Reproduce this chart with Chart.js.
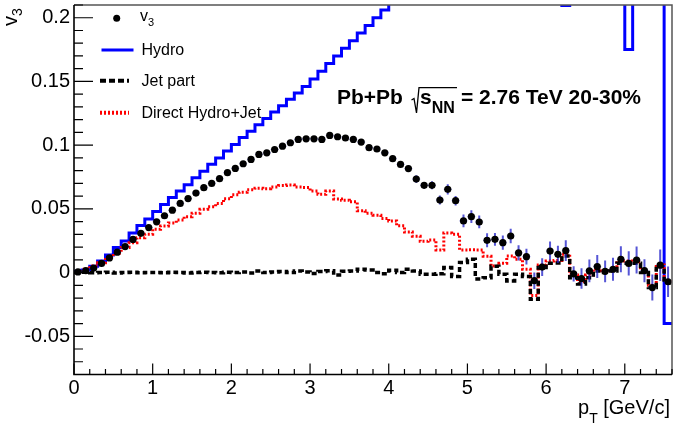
<!DOCTYPE html>
<html>
<head>
<meta charset="utf-8">
<script src="https://cdn.jsdelivr.net/npm/chart.js@4.4.1/dist/chart.umd.min.js"></script>
<style>
  html, body { margin: 0; padding: 0; background: #fff; }
  #wrap { position: relative; width: 676px; height: 428px; overflow: hidden; }
  #chart { position: absolute; left: 0; top: 0; }
  #deco { position: absolute; left: 0; top: 0; }
  .txt { position: absolute; white-space: nowrap; color: #000;
         font-family: "Liberation Sans", Arial, sans-serif; }
  .txt sub { vertical-align: baseline; position: relative; }
  .f20 { font-size: 20px; line-height: 20px; }
  .f16 { font-size: 16px; line-height: 16px; }
  .note { font-size: 21px; line-height: 21px; font-weight: bold; }
</style>
</head>
<body>
<div id="wrap">
  <canvas id="chart" width="676" height="428"></canvas>
  <svg id="deco" width="676" height="428">
    <!-- легенда -->
    <circle cx="116.7" cy="18.3" r="3.5" fill="#000"/>
    <line x1="101.5" y1="50" x2="133.5" y2="50" stroke="#0000ff" stroke-width="3"/>
    <line x1="100" y1="80.7" x2="129" y2="80.7" stroke="#000" stroke-width="4" stroke-dasharray="6 3"/>
    <line x1="100" y1="112.7" x2="129" y2="112.7" stroke="#ff0000" stroke-width="4" stroke-dasharray="2 2"/>
    <!-- корень над s_NN -->
    <polyline points="411.5,100 414,98.5 416.5,113 419,87.6 457,87.6" fill="none" stroke="#000" stroke-width="1.3"/>
  </svg>

  <div class="txt f20" style="left:0px; top:26px; transform-origin:0 0; transform:rotate(-90deg);">v<sub style="font-size:14px; top:5px;">3</sub></div>
  <div class="txt f20" style="left:578px; top:397px;">p<sub style="font-size:14px; top:9px;">T</sub> [GeV/c]</div>

  <div class="txt f16" style="left:140px; top:7.5px;">v<sub style="font-size:11px; top:5px;">3</sub></div>
  <div class="txt f16" style="left:141.5px; top:41.5px;">Hydro</div>
  <div class="txt f16" style="left:141.5px; top:72.5px;">Jet part</div>
  <div class="txt f16" style="left:141.5px; top:104.5px;">Direct Hydro+Jet</div>

  <div class="txt note" style="left:337px; top:85.5px;">Pb+Pb</div>
  <div class="txt note" style="left:420px; top:85.5px;">s<sub style="font-size:16px; top:9px;">NN</sub></div>
  <div class="txt note" style="left:461px; top:85.5px;">= 2.76 TeV 20-30%</div>
</div>

<script>
// Центры бинов по pT (ширина бина 0.1 GeV/c)
const binW = 0.1;
const ptCenters = [
  0.05, 0.15, 0.25, 0.35, 0.45, 0.55, 0.65, 0.75, 0.85, 0.95,
  1.05, 1.15, 1.25, 1.35, 1.45, 1.55, 1.65, 1.75, 1.85, 1.95,
  2.05, 2.15, 2.25, 2.35, 2.45, 2.55, 2.65, 2.75, 2.85, 2.95,
  3.05, 3.15, 3.25, 3.35, 3.45, 3.55, 3.65, 3.75, 3.85, 3.95,
  4.05, 4.15, 4.25, 4.35, 4.45, 4.55, 4.65, 4.75, 4.85, 4.95,
  5.05, 5.15, 5.25, 5.35, 5.45, 5.55, 5.65, 5.75, 5.85, 5.95,
  6.05, 6.15, 6.25, 6.35, 6.45, 6.55, 6.65, 6.75, 6.85, 6.95,
  7.05, 7.15, 7.25, 7.35, 7.45, 7.55
];

// v3 (точки)
const v3Values = [
  0.0005, 0.0015, 0.0035, 0.0072, 0.0115, 0.016, 0.0204, 0.026, 0.0308, 0.0353,
  0.0398, 0.0446, 0.049, 0.0543, 0.0581, 0.0624, 0.0666, 0.070, 0.0737, 0.0784,
  0.0817, 0.0854, 0.0888, 0.0927, 0.094, 0.0966, 0.0992, 0.1019, 0.1045, 0.105,
  0.105, 0.1045, 0.1076, 0.1066, 0.1056, 0.1045, 0.1024, 0.098, 0.097, 0.094,
  0.0894, 0.0849, 0.0816, 0.0734, 0.0685, 0.0685, 0.0569, 0.0653, 0.0564, 0.0405,
  0.0439, 0.0397, 0.0253, 0.0261, 0.0235, 0.0287, 0.0154, 0.0125, -0.0064, 0.0043,
  0.0169, 0.0143, 0.0172, -0.001, -0.0047, 0.0013, 0.0047, 0.001, 0.0026, 0.0104,
  0.0072, 0.0098, 0.0015, -0.0118, 0.0058, -0.0072
];

// ошибки v3
const v3Errors = [
  0.0006, 0.0006, 0.0006, 0.0006, 0.0006, 0.0006, 0.0006, 0.0006, 0.0006, 0.0006,
  0.0007, 0.0007, 0.0007, 0.0007, 0.0007, 0.0007, 0.0007, 0.0007, 0.0007, 0.0007,
  0.0008, 0.0008, 0.0008, 0.0008, 0.0008, 0.0008, 0.0008, 0.0008, 0.0008, 0.0008,
  0.001, 0.001, 0.0011, 0.0012, 0.0012, 0.0013, 0.0014, 0.0015, 0.0016, 0.0018,
  0.002, 0.0022, 0.0025, 0.0029, 0.0026, 0.0032, 0.0035, 0.004, 0.0037, 0.005,
  0.005, 0.005, 0.0055, 0.005, 0.0055, 0.0057, 0.006, 0.0062, 0.0065, 0.007,
  0.0075, 0.0068, 0.0082, 0.006, 0.008, 0.0089, 0.009, 0.0085, 0.009, 0.0102,
  0.0095, 0.0106, 0.009, 0.0102, 0.0124, 0.012
];

// Hydro (гистограмма)
const hydroValues = [
  0.001, 0.002, 0.005, 0.009, 0.0138, 0.0196, 0.0248, 0.031, 0.037, 0.042,
  0.048, 0.0535, 0.059, 0.064, 0.069, 0.0745, 0.0796, 0.085, 0.09, 0.0955,
  0.1005, 0.106, 0.111, 0.116, 0.121, 0.126, 0.131, 0.136, 0.141, 0.146,
  0.152, 0.158, 0.164, 0.17, 0.176, 0.182, 0.188, 0.194, 0.2, 0.206,
  0.214, 0.22, 0.226, 0.232, 0.238, 0.244, 0.25, 0.255, 0.26, 0.265,
  0.27, 0.28, 0.285, 0.29, 0.30, 0.305, 0.31, 0.30, 0.32, 0.31,
  0.29, 0.27, 0.2097, 0.26, 0.30, 0.28, 0.31, 0.29, 0.27, 0.30,
  0.175, 0.26, 0.30, 0.28, 0.25, -0.04
];

// Jet part (гистограмма)
const jetValues = [
  0.0, 0.0002, -0.0002, 0.0, 0.0003, -0.0003, 0.0, 0.0002, -0.0002, 0.0001,
  0.0, -0.0002, 0.0002, 0.0, -0.0003, 0.0001, 0.0003, 0.0, -0.0002, 0.0002,
  0.0, 0.0004, -0.0003, 0.0012, 0.0, 0.0005, 0.0008, 0.0, 0.0012, 0.0004,
  -0.0008, 0.0008, 0.0015, -0.002, 0.001, 0.0012, 0.0026, 0.002, 0.0, -0.001,
  0.0018, 0.0, 0.0026, 0.0013, -0.0013, -0.0013, -0.001, 0.004, -0.003, 0.008,
  0.0104, -0.005, -0.004, 0.005, -0.0013, -0.0066, -0.0013, -0.003, -0.021, 0.004,
  0.0073, 0.0075, 0.013, -0.004, -0.009, -0.004, 0.0013, 0.0, 0.0013, 0.0073,
  0.0073, 0.0073, 0.0, -0.0118, 0.005, -0.008
];

// Direct Hydro+Jet (гистограмма)
const directValues = [
  0.0, 0.0026, 0.0052, 0.0078, 0.0118, 0.0151, 0.0196, 0.0235, 0.0274, 0.030,
  0.034, 0.0365, 0.039, 0.0412, 0.0439, 0.0465, 0.0496, 0.0517, 0.0543, 0.058,
  0.061, 0.063, 0.065, 0.0662, 0.0658, 0.0672, 0.0684, 0.0687, 0.0672, 0.0668,
  0.064, 0.0614, 0.064, 0.0578, 0.0568, 0.0555, 0.0485, 0.0465, 0.0449, 0.0425,
  0.0405, 0.0368, 0.0318, 0.0285, 0.0245, 0.0255, 0.0177, 0.031, 0.030, 0.0177,
  0.018, 0.0177, 0.0128, 0.0052, 0.0073, 0.013, 0.0104, 0.0026, -0.018, 0.006,
  0.009, 0.0095, 0.0143, -0.002, -0.007, -0.002, 0.003, 0.0015, 0.003, 0.009,
  0.009, 0.0085, 0.0015, -0.01, 0.006, -0.007
];

const FONT = '"Liberation Sans", Arial, sans-serif';

// Гистограмма: точки в центрах бинов + края, ступеньки посередине
function histPoints(vals) {
  const pts = vals.map((v, i) => ({ x: ptCenters[i], y: v }));
  pts.unshift({ x: ptCenters[0] - binW / 2, y: vals[0] });
  pts.push({ x: ptCenters[vals.length - 1] + binW / 2, y: vals[vals.length - 1] });
  return pts;
}

// Ошибки v3 (синие крестики под точками)
const errorBarsPlugin = {
  id: 'errorBars',
  beforeDatasetDraw: (chart, args) => {
    if (args.index !== 0) return;
    const { ctx, chartArea: a, scales: { x, y } } = chart;
    ctx.save();
    ctx.beginPath();
    ctx.rect(a.left, a.top, a.right - a.left, a.bottom - a.top);
    ctx.clip();
    ctx.lineCap = 'butt';
    v3Values.forEach((v, i) => {
      const px = x.getPixelForValue(ptCenters[i]);
      const py = y.getPixelForValue(v);
      // по x
      ctx.strokeStyle = 'rgba(60,60,210,0.55)';
      ctx.lineWidth = 1.2;
      ctx.beginPath();
      ctx.moveTo(x.getPixelForValue(ptCenters[i] - binW / 2), py);
      ctx.lineTo(x.getPixelForValue(ptCenters[i] + binW / 2), py);
      ctx.stroke();
      // по y
      ctx.strokeStyle = 'rgba(30,30,200,0.75)';
      ctx.lineWidth = 2;
      ctx.beginPath();
      ctx.moveTo(px, y.getPixelForValue(v - v3Errors[i]));
      ctx.lineTo(px, y.getPixelForValue(v + v3Errors[i]));
      ctx.stroke();
    });
    ctx.restore();
  }
};

// Оси в стиле ROOT: засечки внутрь, рамка
const rootAxesPlugin = {
  id: 'rootAxes',
  afterDraw: (chart) => {
    const { ctx, chartArea: a, scales: { x, y } } = chart;
    ctx.save();
    // рамка сверху и справа
    ctx.strokeStyle = '#555';
    ctx.lineWidth = 1.5;
    ctx.beginPath();
    ctx.moveTo(a.left, a.top);
    ctx.lineTo(a.right, a.top);
    ctx.lineTo(a.right, a.bottom);
    ctx.stroke();
    // засечки
    ctx.strokeStyle = '#000';
    ctx.lineWidth = 1.2;
    ctx.beginPath();
    y.ticks.forEach(t => {
      const py = y.getPixelForValue(t.value);
      const len = t.label ? 19 : 9;
      ctx.moveTo(a.left, py);
      ctx.lineTo(a.left + len, py);
    });
    x.ticks.forEach(t => {
      const px = x.getPixelForValue(t.value);
      const len = t.label ? 11 : 5.5;
      ctx.moveTo(px, a.bottom);
      ctx.lineTo(px, a.bottom - len);
    });
    ctx.stroke();
    // оси слева и снизу
    ctx.lineWidth = 1.6;
    ctx.beginPath();
    ctx.moveTo(a.left, a.top);
    ctx.lineTo(a.left, a.bottom);
    ctx.lineTo(a.right, a.bottom);
    ctx.stroke();
    ctx.restore();
  }
};

const chart = new Chart(document.getElementById('chart'), {
  type: 'scatter',
  data: {
    datasets: [
      {
        label: 'v3',
        data: v3Values.map((v, i) => ({ x: ptCenters[i], y: v })),
        pointRadius: 3.6,
        pointBackgroundColor: '#000',
        pointBorderWidth: 0,
        order: 0
      },
      {
        label: 'Jet part',
        data: histPoints(jetValues),
        showLine: true,
        stepped: 'middle',
        borderColor: '#000',
        borderWidth: 3.5,
        borderDash: [5, 3],
        pointRadius: 0,
        order: 1
      },
      {
        label: 'Direct Hydro+Jet',
        data: histPoints(directValues),
        showLine: true,
        stepped: 'middle',
        borderColor: '#ff0000',
        borderWidth: 3,
        borderDash: [2, 2],
        pointRadius: 0,
        order: 2
      },
      {
        label: 'Hydro',
        data: histPoints(hydroValues),
        showLine: true,
        stepped: 'middle',
        borderColor: '#0000ff',
        borderWidth: 3,
        pointRadius: 0,
        order: 3
      }
    ]
  },
  options: {
    responsive: false,
    animation: false,
    events: [],
    layout: { padding: { top: 5, right: 1, left: 0, bottom: 0 } },
    scales: {
      x: {
        type: 'linear',
        min: 0,
        max: 7.6,
        grid: { display: false, drawTicks: false },
        border: { display: false },
        ticks: {
          stepSize: 0.2,
          autoSkip: false,
          maxRotation: 0,
          padding: 2,
          color: '#000',
          font: { family: FONT, size: 20 },
          callback: (v) => {
            const r = Math.round(v * 10);
            return r % 10 === 0 ? String(r / 10) : '';
          }
        },
        afterFit: (scale) => {
          scale.height = 53.5;
          scale.paddingLeft = 0;
          scale.paddingRight = 0;
        }
      },
      y: {
        min: -0.08,
        max: 0.21,
        grid: { display: false, drawTicks: false },
        border: { display: false },
        ticks: {
          stepSize: 0.01,
          autoSkip: false,
          padding: 4,
          color: '#000',
          font: { family: FONT, size: 20 },
          callback: (v) => {
            const r = Math.round(v * 100);
            return r % 5 === 0 ? String(r / 100) : '';
          }
        },
        afterFit: (scale) => {
          scale.width = 74;
          scale.paddingTop = 0;
          scale.paddingBottom = 0;
        }
      }
    },
    plugins: {
      legend: { display: false },
      tooltip: { enabled: false }
    }
  },
  plugins: [errorBarsPlugin, rootAxesPlugin]
});
</script>
</body>
</html>
